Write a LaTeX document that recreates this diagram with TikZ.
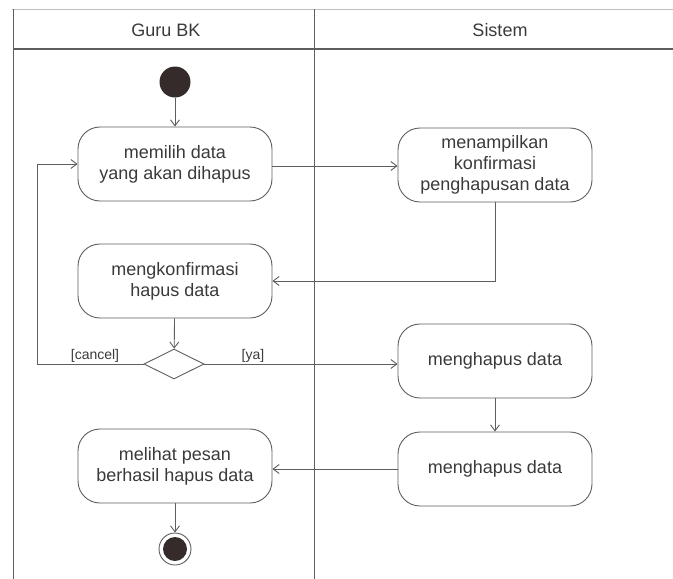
\documentclass[tikz,border=0pt]{standalone}
\usepackage{fontspec}
\setmainfont{Liberation Sans}
\usetikzlibrary{arrows.meta,shapes.geometric}
\definecolor{ink}{HTML}{3A3A3A}
\definecolor{wire}{HTML}{5E5E5E}
\definecolor{dot}{HTML}{352B2B}
\tikzset{
  lane/.style={draw=wire, line width=1pt},
  act/.style={draw=wire, line width=0.9pt, rounded corners=22pt, minimum width=194pt,
    minimum height=74pt, align=center, text=ink, inner sep=2pt,
    font=\fontsize{18}{21}\selectfont},
  flow/.style={draw=wire, line width=0.9pt, -{Straight Barb[length=6pt,width=9pt]}},
  guard/.style={text=ink, font=\fontsize{14}{16}\selectfont, inner sep=1pt},
  head/.style={text=ink, font=\fontsize{18}{21}\selectfont},
  startdot/.style={circle, fill=dot, minimum size=31pt, inner sep=0pt},
  decide/.style={diamond, draw=wire, line width=0.9pt, minimum width=60pt, minimum height=30pt,
    inner sep=0pt, aspect=2},
}
\begin{document}
\begin{tikzpicture}[x=1pt,y=-1pt]
\useasboundingbox (0,0) rectangle (673,579);
% swimlanes
\draw[draw=black!25, line width=1pt] (12,9) -- (673,9);
\draw[lane] (13,9) -- (13,579);
\draw[lane] (314,9) -- (314,579);
\draw[lane, line width=1.3pt] (13,49) -- (673,49);
\node[head] (laneA) at (166,30) {Guru BK};
\node[head] (laneB) at (500,30) {Sistem};

% activities
\node[startdot] (start) at (175,82) {};
\node[act] (pilih) at (175,164) {memilih data\\yang akan dihapus};
\node[act] (tampil) at (495,165) {menampilkan\\konfirmasi\\penghapusan data};
\node[act] (konf) at (175,281) {mengkonfirmasi\\hapus data};
\node[decide] (cek) at (174,364) {};
\node[act] (hapus) at (495,361) {menghapus data};
\node[act] (hapus2) at (495,469) {menghapus data};
\node[act] (lihat) at (175,466) {melihat pesan\\berhasil hapus data};
\node[circle, draw=wire, line width=0.9pt, minimum size=32pt, inner sep=0pt] (stop) at (175,549) {};
\node[circle, fill=dot, minimum size=24pt, inner sep=0pt] (stopin) at (stop) {};

\coordinate (back) at (37,364);

% transitions
\draw[flow] (start) -- (pilih);
\draw[flow] (pilih.east |- 0,166) -- (tampil.west |- 0,166);
\draw[flow] (tampil.south) |- (konf.east);
\draw[flow] (konf) -- (cek);
\draw[flow] (cek.west) -- (back) |- (pilih.west);
\draw[flow] (cek.east) -- (hapus.west |- cek.east);
\draw[flow] (hapus) -- (hapus2);
\draw[flow] (hapus2.west |- 0,469) -- (lihat.east |- 0,469);
\draw[flow] (lihat) -- (stop);

% guards
\node[guard, anchor=south] (gcancel) at (95,364) {[cancel]};
\node[guard, anchor=south] (gya) at (253,364) {[ya]};
\end{tikzpicture}
\end{document}
